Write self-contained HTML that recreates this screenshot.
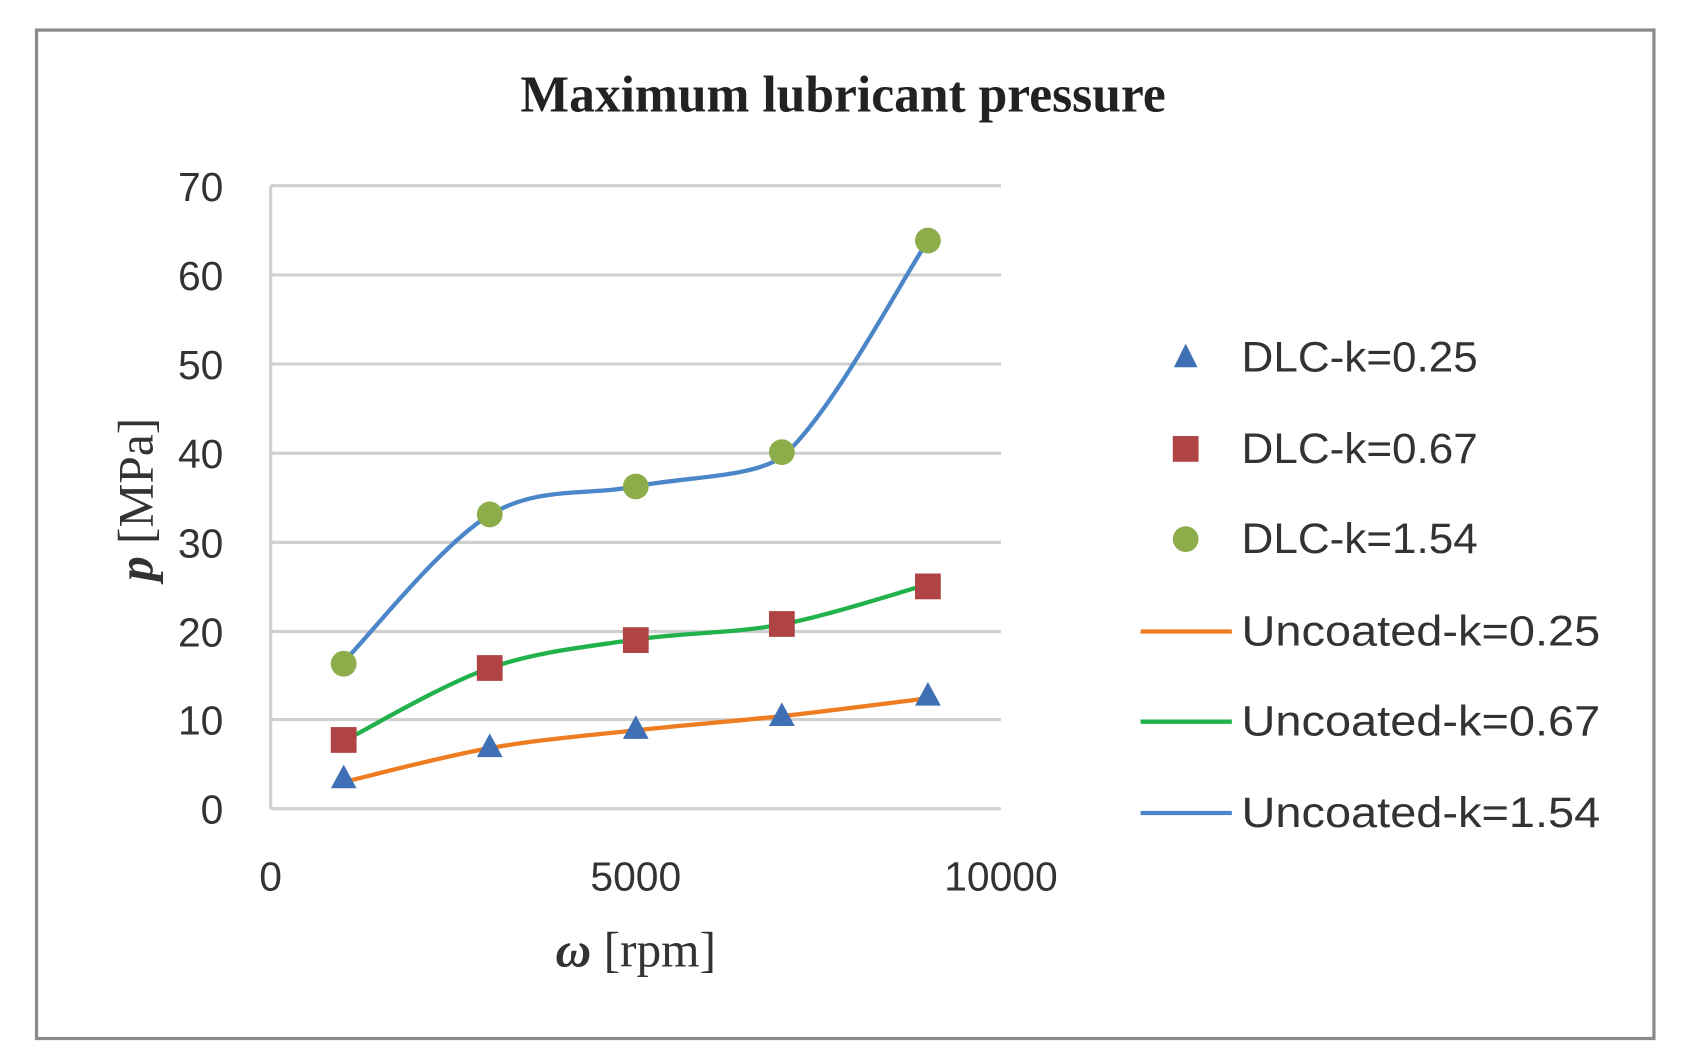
<!DOCTYPE html>
<html><head><meta charset="utf-8"><style>
html,body{margin:0;padding:0;background:#fff;}
svg{display:block;}
</style></head><body>
<svg width="1684" height="1060" viewBox="0 0 1568 987" preserveAspectRatio="none" xmlns="http://www.w3.org/2000/svg">
<rect x="0" y="0" width="1568" height="987" fill="#fff"/>
<rect x="34" y="28" width="1506" height="939" fill="#fff" stroke="#8a8a8a" stroke-width="3"/>
<text x="785" y="104" text-anchor="middle" font-family="Liberation Serif, serif" font-weight="bold" font-size="48" fill="#222">Maximum lubricant pressure</text>
<g stroke="#d0d0d0" stroke-width="3">
<line x1="252" y1="173" x2="932" y2="173"/><line x1="252" y1="256" x2="932" y2="256"/>
<line x1="252" y1="339" x2="932" y2="339"/><line x1="252" y1="422" x2="932" y2="422"/>
<line x1="252" y1="505" x2="932" y2="505"/><line x1="252" y1="588" x2="932" y2="588"/>
<line x1="252" y1="670" x2="932" y2="670"/><line x1="252" y1="753" x2="932" y2="753"/>
<line x1="252" y1="173" x2="252" y2="753"/>
</g>
<g font-family="Liberation Sans, sans-serif" font-size="38" fill="#333" text-anchor="end">
<text x="208" y="187">70</text><text x="208" y="270">60</text><text x="208" y="353">50</text>
<text x="208" y="436">40</text><text x="208" y="519">30</text><text x="208" y="602">20</text>
<text x="208" y="684">10</text><text x="208" y="767">0</text>
</g>
<g font-family="Liberation Sans, sans-serif" font-size="38" fill="#333" text-anchor="middle">
<text x="252" y="829">0</text><text x="592" y="829">5000</text><text x="932" y="829">10000</text>
</g>
<text x="592" y="900" text-anchor="middle" font-family="Liberation Serif, serif" font-size="46" fill="#333"><tspan font-style="italic" font-weight="bold">ω</tspan> [rpm]</text>
<text transform="translate(142,465) rotate(-90)" text-anchor="middle" font-family="Liberation Serif, serif" font-size="46" fill="#333"><tspan font-style="italic" font-weight="bold">p</tspan> [MPa]</text>
<g fill="none" stroke-width="4" stroke-linecap="round">
<path stroke="#ee7d22" d="M320,728.1 C342.7,722.9 410.7,704.6 456,696.6 C501.3,688.6 546.7,685 592,680 C637.3,675 682.7,671.8 728,666.8 C773.3,661.8 841.3,653 864,650.2"/>
<path stroke="#22b24c" d="M320,690 C342.7,678.7 410.7,637.8 456,622 C501.3,606.3 546.7,602.3 592,595.5 C637.3,588.7 682.7,590 728,581.4 C773.3,572.8 841.3,550.3 864,544.1"/>
<path stroke="#4a86c8" d="M320,616.2 C342.7,593.4 410.7,506.6 456,479.4 C501.3,452.2 546.7,461.9 592,452.9 C637.3,443.9 700,445 728,425.5 C773.3,387.4 841.3,257.7 864,224.1"/>
</g>
<g fill="#3f6fb5">
<polygon points="320,712 332,734 308,734"/><polygon points="456,683 468,705 444,705"/>
<polygon points="592,666 604,688 580,688"/><polygon points="728,654 740,676 716,676"/>
<polygon points="864,635 876,657 852,657"/>
</g>
<g fill="#b04444">
<rect x="308" y="677" width="24" height="24"/><rect x="444" y="610" width="24" height="24"/>
<rect x="580" y="584" width="24" height="24"/><rect x="716" y="569" width="24" height="24"/>
<rect x="852" y="534" width="24" height="24"/>
</g>
<g fill="#8cad4a">
<circle cx="320" cy="618" r="12"/><circle cx="456" cy="479" r="12"/>
<circle cx="592" cy="453" r="12"/><circle cx="728" cy="421" r="12"/>
<circle cx="864" cy="224" r="12"/>
</g>
<g font-family="Liberation Sans, sans-serif" font-size="40" fill="#333">
<polygon points="1104,320 1115,342 1093,342" fill="#3f6fb5"/>
<text x="1156" y="346" textLength="220" lengthAdjust="spacingAndGlyphs">DLC-k=0.25</text>
<rect x="1092" y="406" width="24" height="24" fill="#b04444"/>
<text x="1156" y="431" textLength="220" lengthAdjust="spacingAndGlyphs">DLC-k=0.67</text>
<circle cx="1104" cy="502" r="12" fill="#8cad4a"/>
<text x="1156" y="515" textLength="220" lengthAdjust="spacingAndGlyphs">DLC-k=1.54</text>
<line x1="1062" y1="588" x2="1147" y2="588" stroke="#ee7d22" stroke-width="4"/>
<text x="1156" y="601" textLength="334" lengthAdjust="spacingAndGlyphs">Uncoated-k=0.25</text>
<line x1="1062" y1="672" x2="1147" y2="672" stroke="#22b24c" stroke-width="4"/>
<text x="1156" y="685" textLength="334" lengthAdjust="spacingAndGlyphs">Uncoated-k=0.67</text>
<line x1="1062" y1="757" x2="1147" y2="757" stroke="#4a86c8" stroke-width="4"/>
<text x="1156" y="770" textLength="334" lengthAdjust="spacingAndGlyphs">Uncoated-k=1.54</text>
</g>
</svg>
</body></html>
